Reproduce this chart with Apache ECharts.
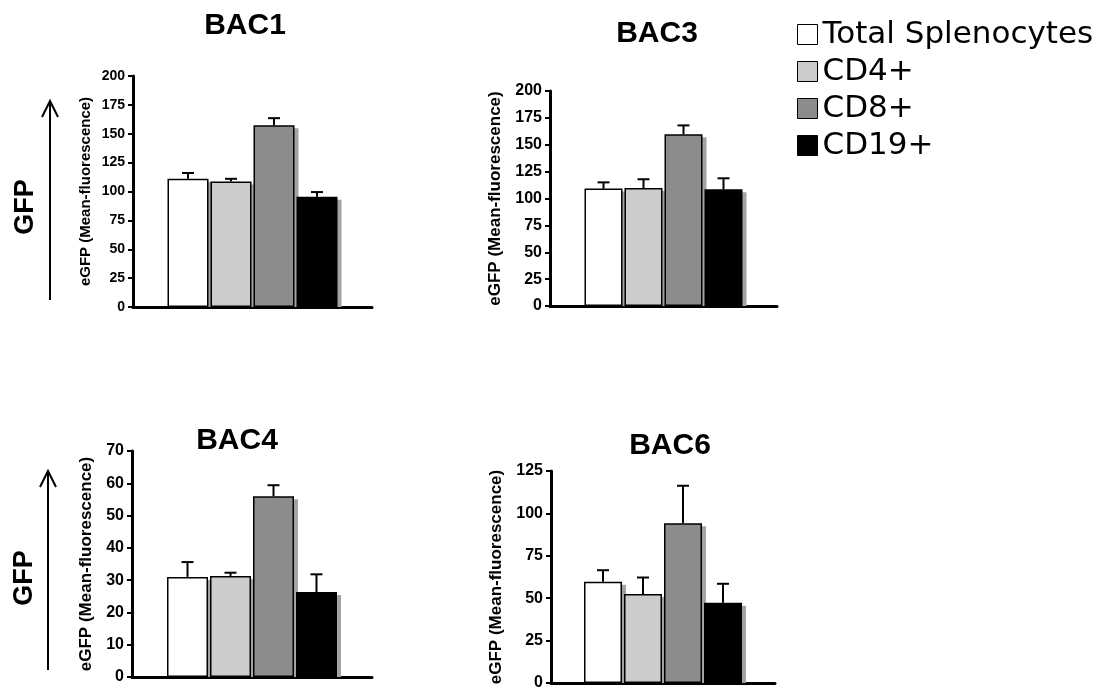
<!DOCTYPE html>
<html>
<head>
<meta charset="UTF-8">
<title>eGFP mean fluorescence</title>
<script src="https://cdn.jsdelivr.net/npm/echarts@6/dist/echarts.min.js"></script>
<style>
  html, body { margin: 0; padding: 0; background: #fff; }
  #main { width: 1120px; height: 691px; }
</style>
</head>
<body>
<div id="main"></div>
<script>
// cell populations (legend order)
var groups = ['Total Splenocytes', 'CD4+', 'CD8+', 'CD19+'];
var groupColors = ['#ffffff', '#cccccc', '#8c8c8c', '#000000'];

var panelNames = ['BAC1', 'BAC3', 'BAC4', 'BAC6'];

// mean fluorescence and upper error per panel
var bac1Mean = [111, 108.7, 157.4, 95.4];
var bac1Err  = [5, 2.3, 6.1, 4.1];
var bac3Mean = [109.2, 109.8, 159.7, 108.6];
var bac3Err  = [5.8, 8.1, 8.3, 10.2];
var bac4Mean = [31, 31.3, 56, 26.3];
var bac4Err  = [4.6, 1.0, 3.4, 5.5];
var bac6Mean = [59.7, 52.5, 94.2, 47.3];
var bac6Err  = [6.8, 9.7, 22.1, 11.2];

var yMax = [200, 200, 70, 125];
var yStep = [25, 25, 10, 25];

var means = [bac1Mean, bac3Mean, bac4Mean, bac6Mean];
var errs = [bac1Err, bac3Err, bac4Err, bac6Err];

// layout of each panel
var panels = [
    {left: 133, top: 76, width: 239, height: 231, barW: 41, gap: 2, tickFont: 14, nameFont: 15, nameGap: 40,
        title: [245, 26]},
    {left: 550, top: 91, width: 227, height: 215, barW: 38, gap: 2, tickFont: 16, nameFont: 17, nameGap: 46,
        title: [657, 34]},
    {left: 132, top: 451, width: 240, height: 226, barW: 41, gap: 2, tickFont: 16, nameFont: 17, nameGap: 37,
        title: [237, 441]},
    {left: 551, top: 471, width: 224, height: 215, barW: 38, gap: 2, tickFont: 16, nameFont: 17, nameGap: 46,
        title: [670, 446]}
];

var font = '"Liberation Sans", Arial, sans-serif';

var grids = [], xAxes = [], yAxes = [], series = [], graphics = [];

panels.forEach(function (p, k) {
    grids.push({left: p.left, top: p.top, width: p.width, height: p.height});
    xAxes.push({
        type: 'category', gridIndex: k, data: [''],
        axisLine: {lineStyle: {color: '#000', width: 3}},
        axisTick: {show: false}, axisLabel: {show: false}
    });
    yAxes.push({
        type: 'value', gridIndex: k, min: 0, max: yMax[k], interval: yStep[k],
        name: 'eGFP (Mean-fluorescence)', nameLocation: 'middle', nameGap: p.nameGap,
        nameTextStyle: {fontFamily: font, fontWeight: 'bold', fontSize: p.nameFont, color: '#000'},
        axisLine: {show: true, lineStyle: {color: '#000', width: 3}},
        axisTick: {show: true, length: 5, lineStyle: {color: '#000', width: 2}},
        axisLabel: {fontFamily: font, fontWeight: 'bold', fontSize: p.tickFont, color: '#000', margin: 8},
        splitLine: {show: false}
    });

    groups.forEach(function (g, i) {
        series.push({
            name: g, type: 'bar', xAxisIndex: k, yAxisIndex: k,
            data: [means[k][i]],
            barWidth: p.barW, barGap: (p.gap / p.barW * 100) + '%',
            itemStyle: {color: groupColors[i], borderColor: '#000', borderWidth: 1.5},
            emphasis: {disabled: true},
            z: 2
        });
    });

    var errData = groups.map(function (g, i) {
        return [0, means[k][i], means[k][i] + errs[k][i], i];
    });

    // gray drop shadow behind each bar
    series.push({
        type: 'custom', xAxisIndex: k, yAxisIndex: k,
        data: errData, encode: {x: 0, y: 1},
        z: 1, silent: true,
        renderItem: (function (p) {
            return function (params, api) {
                var top = api.coord([api.value(0), api.value(1)]);
                var base = api.coord([api.value(0), 0]);
                var x = top[0] + (api.value(3) - 1.5) * (p.barW + p.gap) - p.barW / 2;
                return {
                    type: 'rect',
                    shape: {x: x + 4, y: top[1] + 3, width: p.barW, height: base[1] - top[1] - 3},
                    style: {fill: '#a3a3a3'}
                };
            };
        })(p)
    });

    // upper error bars
    series.push({
        type: 'custom', xAxisIndex: k, yAxisIndex: k,
        data: errData,
        encode: {x: 0, y: [1, 2]},
        z: 3, silent: true,
        renderItem: (function (p) {
            return function (params, api) {
                var lo = api.coord([api.value(0), api.value(1)]);
                var hi = api.coord([api.value(0), api.value(2)]);
                var x = lo[0] + (api.value(3) - 1.5) * (p.barW + p.gap);
                var cap = 6;
                return {
                    type: 'group',
                    children: [
                        {type: 'line', shape: {x1: x, y1: lo[1], x2: x, y2: hi[1]},
                            style: {stroke: '#000', lineWidth: 2}},
                        {type: 'line', shape: {x1: x - cap, y1: hi[1], x2: x + cap, y2: hi[1]},
                            style: {stroke: '#000', lineWidth: 2}}
                    ]
                };
            };
        })(p)
    });

    graphics.push({
        type: 'text', x: p.title[0], y: p.title[1],
        style: {text: panelNames[k], fontFamily: font, fontWeight: 'bold', fontSize: 30, fill: '#000',
            textAlign: 'center', textVerticalAlign: 'middle'}
    });
});

// GFP labels with arrows on the left
[[26, 207, 50, 300, 101], [25, 578, 48, 670, 471]].forEach(function (a) {
    graphics.push({
        type: 'text', x: a[0], y: a[1], rotation: Math.PI / 2,
        style: {text: 'GFP', fontFamily: font, fontWeight: 'bold', fontSize: 27, fill: '#000',
            textAlign: 'center', textVerticalAlign: 'middle'}
    });
    graphics.push({
        type: 'line', shape: {x1: a[2], y1: a[3], x2: a[2], y2: a[4]},
        style: {stroke: '#000', lineWidth: 2}
    });
    graphics.push({
        type: 'polyline', shape: {points: [[a[2] - 8, a[4] + 16], [a[2], a[4]], [a[2] + 8, a[4] + 16]]},
        style: {stroke: '#000', lineWidth: 2, fill: null}
    });
});

var chart = echarts.init(document.getElementById('main'), null, {renderer: 'canvas'});
chart.setOption({
    animation: false,
    backgroundColor: '#fff',
    legend: {
        data: groups, orient: 'vertical', left: 792, top: 14,
        itemWidth: 20, itemHeight: 20, itemGap: 6, icon: 'rect',
        itemStyle: {borderColor: '#000', borderWidth: 1},
        textStyle: {fontFamily: '"DejaVu Sans", Verdana, sans-serif', fontSize: 31, color: '#000',
            lineHeight: 31},
        selectedMode: false
    },
    grid: grids,
    xAxis: xAxes,
    yAxis: yAxes,
    series: series,
    graphic: graphics
});
</script>
</body>
</html>
